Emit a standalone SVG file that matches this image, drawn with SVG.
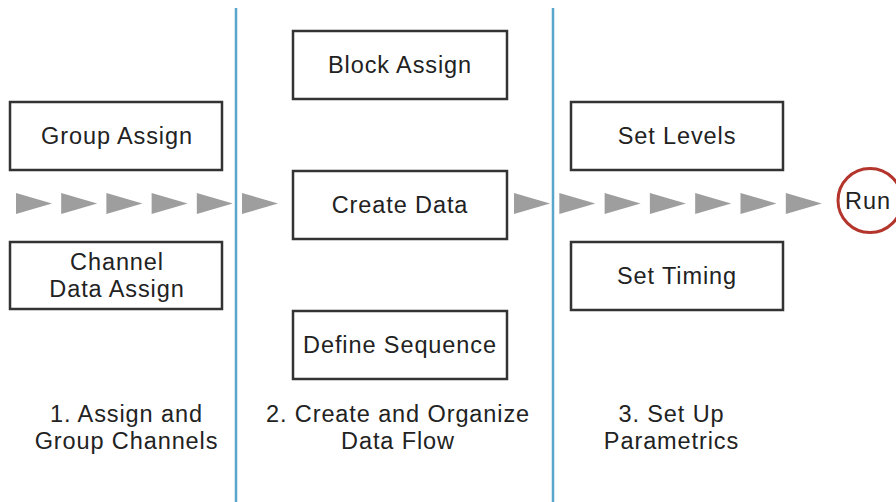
<svg xmlns="http://www.w3.org/2000/svg" xmlns:xlink="http://www.w3.org/1999/xlink" width="896" height="502" viewBox="0 0 896 502">
<style>
.box{fill:#fff;stroke:#333;stroke-width:2.5}
.t{font-family:"Liberation Sans",Arial,sans-serif;font-size:23.5px;letter-spacing:0.9px;fill:#222;text-anchor:middle}
.div{stroke:#5aa6cb;stroke-width:2.5;fill:none}
.arr{fill:#9e9e9e}
</style>
<defs>
<path id="tri" d="M0,-10.5 L36,0 L0,10.5 Z"/>
</defs>
<rect width="896" height="502" fill="#fff"/>
<g id="dividers">
<line class="div" x1="236" y1="8" x2="236" y2="502"/>
<line class="div" x1="553" y1="8" x2="553" y2="502"/>
</g>
<g id="connectors" class="arr">
<use xlink:href="#tri" x="16" y="203.5"/>
<use xlink:href="#tri" x="61.2" y="203.5"/>
<use xlink:href="#tri" x="106.4" y="203.5"/>
<use xlink:href="#tri" x="151.6" y="203.5"/>
<use xlink:href="#tri" x="196.8" y="203.5"/>
<use xlink:href="#tri" x="242" y="203.5"/>
<use xlink:href="#tri" x="514" y="203.5"/>
<use xlink:href="#tri" x="559.3" y="203.5"/>
<use xlink:href="#tri" x="604.6" y="203.5"/>
<use xlink:href="#tri" x="649.9" y="203.5"/>
<use xlink:href="#tri" x="695.2" y="203.5"/>
<use xlink:href="#tri" x="740.5" y="203.5"/>
<use xlink:href="#tri" x="785.8" y="203.5"/>
</g>
<g id="group-assign"><rect class="box" x="10" y="102" width="212" height="68"/><text class="t" x="117" y="144.3">Group Assign</text></g>
<g id="channel-data-assign"><rect class="box" x="10" y="242" width="212" height="67"/><text class="t" x="117" y="270">Channel</text><text class="t" x="117" y="297.3">Data Assign</text></g>
<g id="block-assign"><rect class="box" x="293" y="31" width="214" height="68"/><text class="t" x="400" y="73.3">Block Assign</text></g>
<g id="create-data"><rect class="box" x="293" y="171" width="214" height="68"/><text class="t" x="400" y="213.3">Create Data</text></g>
<g id="define-sequence"><rect class="box" x="293" y="311" width="214" height="68"/><text class="t" x="400" y="353.3">Define Sequence</text></g>
<g id="set-levels"><rect class="box" x="571" y="102" width="212" height="68"/><text class="t" x="677" y="144.3">Set Levels</text></g>
<g id="set-timing"><rect class="box" x="571" y="242" width="212" height="68"/><text class="t" x="677" y="284">Set Timing</text></g>
<g id="run"><circle cx="870" cy="200.5" r="32" fill="#fff" stroke="#b3352c" stroke-width="3"/><text class="t" x="868" y="209">Run</text></g>
<g id="labels">
<text class="t" x="126.5" y="421.7">1. Assign and</text>
<text class="t" x="126.5" y="449.3">Group Channels</text>
<text class="t" x="398" y="421.7">2. Create and Organize</text>
<text class="t" x="398" y="449.3">Data Flow</text>
<text class="t" x="671.5" y="421.7">3. Set Up</text>
<text class="t" x="671.5" y="449.3">Parametrics</text>
</g>
</svg>
